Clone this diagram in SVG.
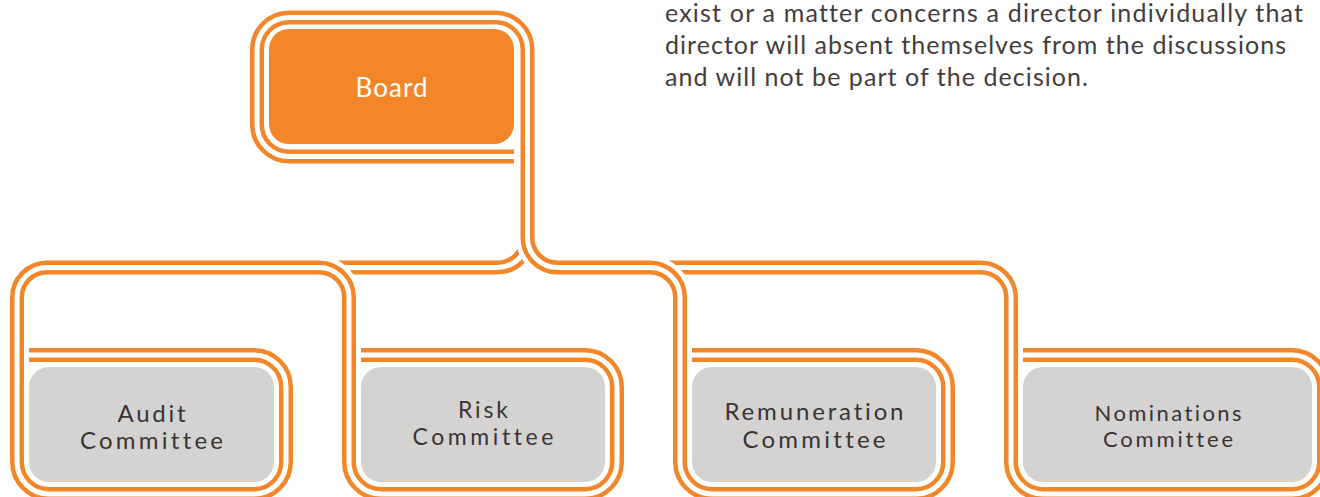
<svg xmlns="http://www.w3.org/2000/svg" xmlns:xlink="http://www.w3.org/1999/xlink" width="1320" height="497" viewBox="0 0 1320 497">
<style>
.casing{fill:none;stroke:#ffffff;stroke-width:23}
.rail{fill:none;stroke:#F4862A;stroke-width:14}
.gap{fill:none;stroke:#ffffff;stroke-width:5}
.board{fill:#F4862A}
.box{fill:#D4D3D2}
text{font-variant-ligatures:none;font-feature-settings:"liga" 0,"clig" 0}
.lbl{font-family:Lato,"Open Sans","DejaVu Sans",sans-serif;font-size:24px;fill:#3a3333;text-anchor:middle}
.lblw{font-family:Lato,"Open Sans","DejaVu Sans",sans-serif;font-size:26px;fill:#ffffff;text-anchor:middle}
.para{font-family:Lato,"Open Sans","DejaVu Sans",sans-serif;font-size:25px;fill:#433c3c}
</style>
<defs>
<path id="pLeft" d="M 527.5 228 V 237.5 A 30 30 0 0 1 497.5 267.5 H 330"/>
<path id="pNom" d="M 640 267.5 H 981 A 30 30 0 0 1 1011 297.5 V 462 A 32 32 0 0 0 1043 494 H 1292 A 32 32 0 0 0 1324 462 V 387 A 32 32 0 0 0 1292 355 H 1023"/>
<path id="pAR" d="M 29 355 H 254 A 32 32 0 0 1 286 387 V 462 A 32 32 0 0 1 254 494 H 49 A 32 32 0 0 1 17 462 V 297.5 A 30 30 0 0 1 47 267.5 H 319 A 30 30 0 0 1 349 297.5 V 462 A 32 32 0 0 0 381 494 H 585 A 32 32 0 0 0 617 462 V 387 A 32 32 0 0 0 585 355 H 361"/>
<path id="pBoard" d="M 514 156.5 H 289 A 32 32 0 0 1 257 124.5 V 49.5 A 32 32 0 0 1 289 17.5 H 495.5 A 32 32 0 0 1 527.5 49.5 V 237.5 A 30 30 0 0 0 557.5 267.5 H 650 A 30 30 0 0 1 680 297.5 V 462 A 32 32 0 0 0 712 494 H 916 A 32 32 0 0 0 948 462 V 387 A 32 32 0 0 0 916 355 H 692"/>
</defs>

<g id="connectors">
  <g id="branch-left">
    <use xlink:href="#pLeft" class="casing"/>
    <use xlink:href="#pLeft" class="rail"/>
    <use xlink:href="#pLeft" class="gap"/>
  </g>
  <g id="track-nominations">
    <use xlink:href="#pNom" class="casing"/>
    <use xlink:href="#pNom" class="rail"/>
    <use xlink:href="#pNom" class="gap"/>
  </g>
  <g id="track-audit-risk">
    <use xlink:href="#pAR" class="casing"/>
    <use xlink:href="#pAR" class="rail"/>
    <use xlink:href="#pAR" class="gap"/>
  </g>
  <g id="track-board-remuneration">
    <use xlink:href="#pBoard" class="casing"/>
    <use xlink:href="#pBoard" class="rail"/>
    <use xlink:href="#pBoard" class="gap"/>
  </g>
</g>

<g id="node-board">
  <rect class="board" x="269" y="29" width="245" height="115" rx="20" ry="20"/>
  <text class="lblw" x="391.5" y="97" textLength="72" lengthAdjust="spacing">Board</text>
</g>

<g id="node-audit">
  <rect class="box" x="29" y="367" width="245" height="115" rx="20" ry="20"/>
  <text class="lbl" x="151.5" y="422" textLength="68" lengthAdjust="spacing">Audit</text>
  <text class="lbl" x="151.5" y="449" textLength="143" lengthAdjust="spacing">Committee</text>
</g>

<g id="node-risk">
  <rect class="box" x="361" y="367" width="244" height="115" rx="20" ry="20"/>
  <text class="lbl" x="483" y="418" style="font-size:23px" textLength="50" lengthAdjust="spacing">Risk</text>
  <text class="lbl" x="483" y="445" style="font-size:23px" textLength="141" lengthAdjust="spacing">Committee</text>
</g>

<g id="node-remuneration">
  <rect class="box" x="692" y="367" width="244" height="115" rx="20" ry="20"/>
  <text class="lbl" x="814" y="420" textLength="179" lengthAdjust="spacing">Remuneration</text>
  <text class="lbl" x="814" y="448" textLength="143" lengthAdjust="spacing">Committee</text>
</g>

<g id="node-nominations">
  <rect class="box" x="1023" y="367" width="289" height="115" rx="20" ry="20"/>
  <text class="lbl" x="1168" y="421" style="font-size:22px" textLength="147" lengthAdjust="spacing">Nominations</text>
  <text class="lbl" x="1168" y="447" style="font-size:22px" textLength="130" lengthAdjust="spacing">Committee</text>
</g>

<g id="paragraph">
  <text class="para" x="665" y="22" textLength="638" lengthAdjust="spacing">exist or a matter concerns a director individually that</text>
  <text class="para" x="665" y="54" textLength="621" lengthAdjust="spacing">director will absent themselves from the discussions</text>
  <text class="para" x="665" y="86" textLength="423" lengthAdjust="spacing">and will not be part of the decision.</text>
</g>
</svg>
